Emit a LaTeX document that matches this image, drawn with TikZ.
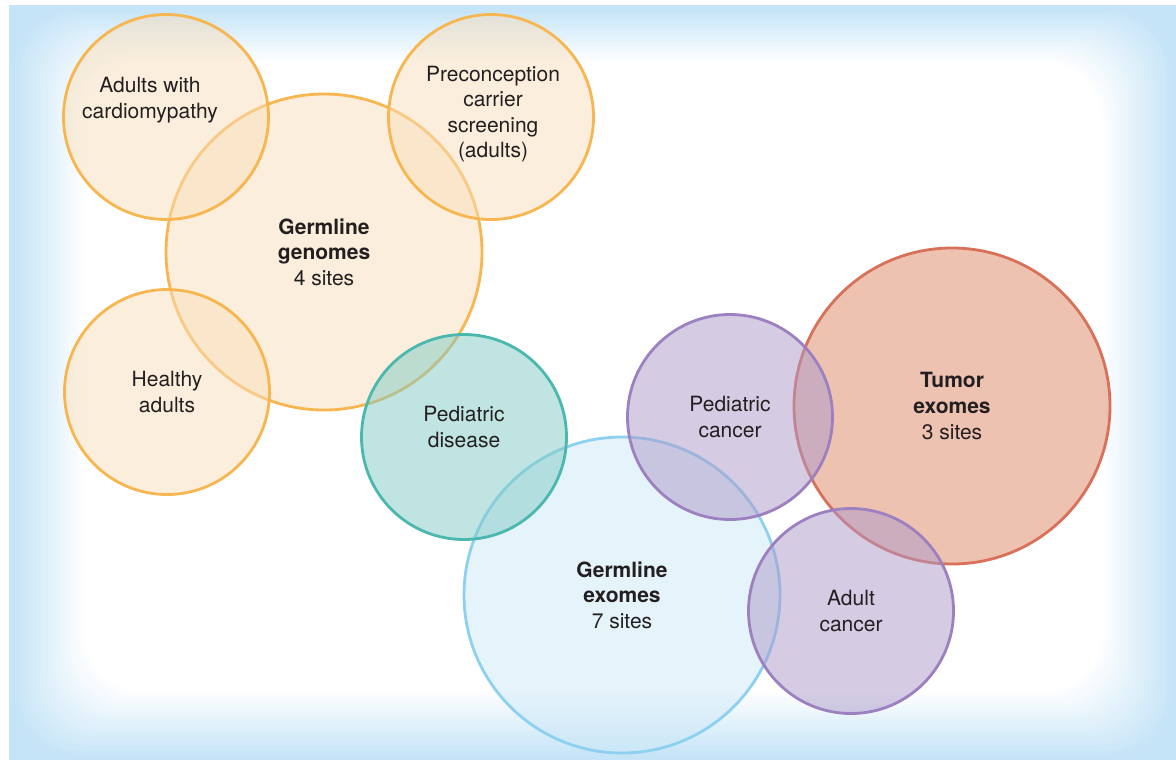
\documentclass[tikz,border=0pt]{standalone}
\usepackage{fontspec}
\setmainfont{TeX Gyre Heros}
\usepackage{tikz}
\definecolor{bgblue}{RGB}{197,228,247}
\definecolor{ornS}{RGB}{247,182,80}
\definecolor{ornF}{RGB}{249,223,187}
\definecolor{tealS}{RGB}{75,184,176}
\definecolor{tealF}{RGB}{129,203,197}
\definecolor{bluS}{RGB}{142,208,240}
\definecolor{bluF}{RGB}{205,233,247}
\definecolor{purS}{RGB}{157,128,191}
\definecolor{purF}{RGB}{173,153,201}
\definecolor{redS}{RGB}{217,112,90}
\definecolor{redF}{RGB}{221,135,101}
\definecolor{txt}{RGB}{35,31,32}

\begin{document}
\begin{tikzpicture}[x=0.5pt,y=-0.5pt,
        bubble/.style={circle,inner sep=0pt,line width=1.4pt,fill opacity=0.5},
        small/.style={bubble,minimum size=102.5pt},
        big/.style={bubble,minimum size=158pt},
        orn/.style={draw=ornS,fill=ornF},
        teal/.style={draw=tealS,fill=tealF},
        blu/.style={draw=bluS,fill=bluF},
        pur/.style={draw=purS,fill=purF},
        red/.style={draw=redS,fill=redF},
        lbl/.style={text=txt,align=center,inner sep=0pt,font=\fontsize{10.5}{12.8}\selectfont}]
        \useasboundingbox (0,0) rectangle (1176,762);

        % background frame with soft white centre
        \fill[bgblue] (9,5) rectangle (1176,760);
        \foreach \i in {0,...,30}{
            \pgfmathtruncatemacro\p{100*\i/30}
            \fill[white!\p!bgblue,rounded corners=30pt]
                (12+2.4*\i,8+1.8*\i) rectangle (1174-2.4*\i,758-2.2*\i);
        }

        % circles
        \node[big,orn] (genomes) at (324,252) {};
        \node[small,orn] (cardio) at (166,117) {};
        \node[small,orn] (precon) at (491,117) {};
        \node[small,orn] (healthy) at (167,392) {};
        \node[big,blu] (gexomes) at (622,595) {};
        \node[small,teal] (peddis) at (464,437) {};
        \node[big,red] (texomes) at (952,406) {};
        \node[small,pur] (pedcan) at (730,417) {};
        \node[small,pur] (adcan) at (851,611) {};

        % labels
        \node[lbl] (genomesL) at (genomes.center) {\textbf{Germline}\\\textbf{genomes}\\4 sites};
        \node[lbl] (cardioL) at ([shift={(-16,-17)}]cardio.center) {Adults with\\cardiomypathy};
        \node[lbl] (preconL) at ([shift={(2,-3)}]precon.center) {Preconception\\carrier\\screening\\(adults)};
        \node[lbl] (healthyL) at (healthy.center) {Healthy\\adults};
        \node[lbl] (peddisL) at ([shift={(0,-10)}]peddis.center) {Pediatric\\disease};
        \node[lbl] (gexomesL) at (gexomes.center) {\textbf{Germline}\\\textbf{exomes}\\7 sites};
        \node[lbl] (pedcanL) at (pedcan.center) {Pediatric\\cancer};
        \node[lbl] (texomesL) at (texomes.center) {\textbf{Tumor}\\\textbf{exomes}\\3 sites};
        \node[lbl] (adcanL) at (adcan.center) {Adult\\cancer};
\end{tikzpicture}
\end{document}
